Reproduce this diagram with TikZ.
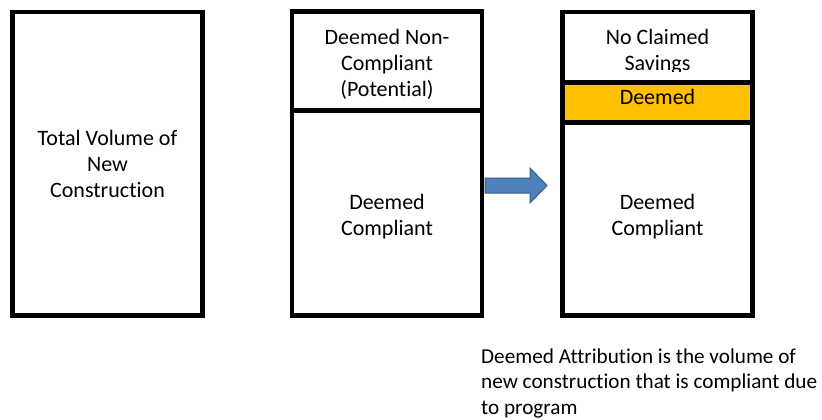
\documentclass[tikz,border=0pt]{standalone}
\usepackage{fontspec}
\setmainfont{Carlito}[Ligatures=NoCommon]
\definecolor{deemorange}{HTML}{FFC000}
\definecolor{arrowfill}{HTML}{4F81BD}
\definecolor{arrowline}{HTML}{385D8A}
\tikzset{
  colbox/.style={rectangle, draw=black, line width=4.5pt, fill=white, inner sep=0pt,
    minimum width=190pt},
  plaintext/.style={inner sep=0pt, align=center, font=\fontsize{22}{26}\selectfont},
}
\begin{document}
\begin{tikzpicture}[x=1pt,y=-1pt]
\useasboundingbox[fill=white] (0,0) rectangle (822,420);
% column 1
\node[colbox, minimum height=303.5pt] (total) at (107.5,163.75) {};
\node[plaintext] (totaltext) at (107.5,164) {Total Volume of\\New\\Construction};
% column 2
\node[colbox, minimum height=99pt] (noncomp) at (387,61) {};
\node[plaintext] (noncomptext) at (387,64.5) {Deemed Non-\\Compliant\\(Potential)};
\node[colbox, minimum height=205pt] (comp2) at (387,213) {};
\node[plaintext] (comp2text) at (387,217) {Deemed\\Compliant};
% column 3
\node[colbox, minimum height=70.5pt] (noclaim) at (657.5,47.25) {};
\begin{scope}
  \clip (562.5,12) rectangle (752.5,72);
  \node[plaintext] (noclaimtext) at (657.5,52) {No Claimed\\Savings};
\end{scope}
\node[colbox, fill=deemorange, minimum height=40pt] (deemed) at (657.5,102.5) {};
\node[plaintext, anchor=base] (deemedtext) at (657.5,104) {Deemed};
\node[colbox, minimum height=193pt] (comp3) at (657.5,219) {};
\node[plaintext] (comp3text) at (657.5,217) {Deemed\\Compliant};
% arrow
\draw[draw=arrowline, fill=arrowfill, line width=1pt, line join=miter]
  (485,178) -- (530,178) -- (530,168) -- (547,185.5) -- (530,203) -- (530,193) -- (485,193) -- cycle;
% caption
\node[anchor=base west, inner sep=0pt, align=left, font=\fontsize{21.2}{25.5}\selectfont]
  (caption) at (481,414) {Deemed Attribution is the volume of\\new construction that is compliant due\\to program};
\end{tikzpicture}
\end{document}
